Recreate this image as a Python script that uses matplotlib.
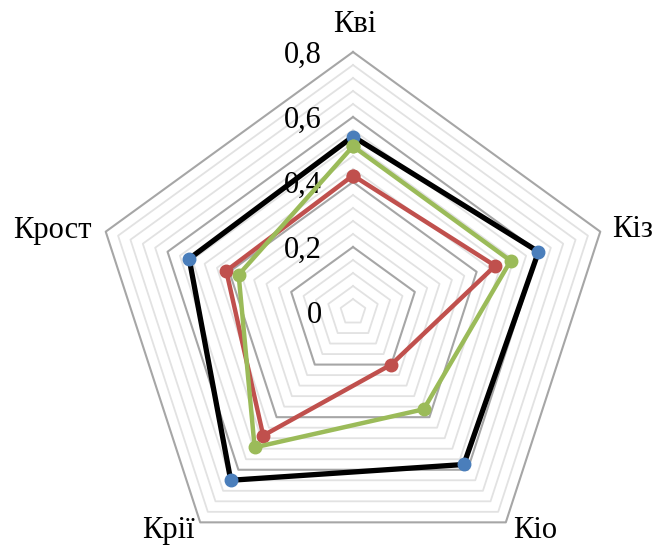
import numpy as np
import matplotlib
matplotlib.use("Agg")
import matplotlib.pyplot as plt

# Indicators around the radar and their values
categories = ["Кві", "Кіз", "Кіо", "Крії", "Крост"]
series_black = [0.54, 0.60, 0.58, 0.64, 0.53]
series_red = [0.42, 0.46, 0.20, 0.47, 0.41]
series_green = [0.51, 0.51, 0.37, 0.515, 0.37]
tick_values = [0, 0.2, 0.4, 0.6, 0.8]
tick_labels = ["0", "0,2", "0,4", "0,6", "0,8"]

r_max = 0.8
n = len(categories)
angles = np.pi / 2 - 2 * np.pi * np.arange(n) / n


def to_xy(values):
    v = np.asarray(values, dtype=float)
    return v * np.cos(angles), v * np.sin(angles)


def closed(a):
    return np.append(a, a[0])


plt.rcParams["font.family"] = ["Liberation Serif", "DejaVu Serif"]

W, H = 656, 546
fig = plt.figure(figsize=(W / 100, H / 100), dpi=100)
ax = fig.add_axes([0, 0, 1, 1])
scale = 325.0  # pixels per unit value
cx, cy = 353, 312
ax.set_xlim(-cx / scale, (W - cx) / scale)
ax.set_ylim(-(H - cy) / scale, cy / scale)
ax.set_aspect("equal")
ax.axis("off")


def pix(px, py):
    """Figure pixel position (from top-left) to data coordinates."""
    return (px - cx) / scale, (cy - py) / scale


# Pentagon gridlines: minor every 0.04, major every 0.2
for lev in np.arange(0.04, r_max + 1e-9, 0.04):
    x, y = to_xy([lev] * n)
    major = abs(lev / 0.2 - round(lev / 0.2)) < 1e-6
    ax.plot(closed(x), closed(y),
            color="#a6a6a6" if major else "#e2e2e2",
            lw=1.5 if major else 1.3, zorder=1)

# Value labels along the top axis
for v, lab in zip(tick_values, tick_labels):
    tx, _ = pix(322, 0)
    ty = v - 11 / scale
    ax.text(tx, ty, lab, ha="right", va="baseline", fontsize=22, zorder=2)

# Category labels (anchor pixel, horizontal alignment)
label_pos = {
    "Кві": (355, 32, "center"),
    "Кіз": (612, 237, "left"),
    "Кіо": (513, 538, "left"),
    "Крії": (142, 538, "left"),
    "Крост": (13, 238, "left"),
}
for c in categories:
    px, py, ha = label_pos[c]
    x, y = pix(px, py)
    ax.text(x, y, c, ha=ha, va="baseline", fontsize=22)

# Data series
x, y = to_xy(series_black)
ax.plot(closed(x), closed(y), color="black", lw=3.8, zorder=3)
ax.plot(x, y, "o", color="#4a7ebb", ms=9, mec="#4a7ebb", zorder=4)

x, y = to_xy(series_red)
ax.plot(closed(x), closed(y), color="#c0504d", lw=3.2, zorder=5,
        marker="o", ms=9)

x, y = to_xy(series_green)
ax.plot(closed(x), closed(y), color="#9bbb59", lw=3.2, zorder=6,
        marker="o", ms=9)

fig.savefig("out.png", dpi=100)
